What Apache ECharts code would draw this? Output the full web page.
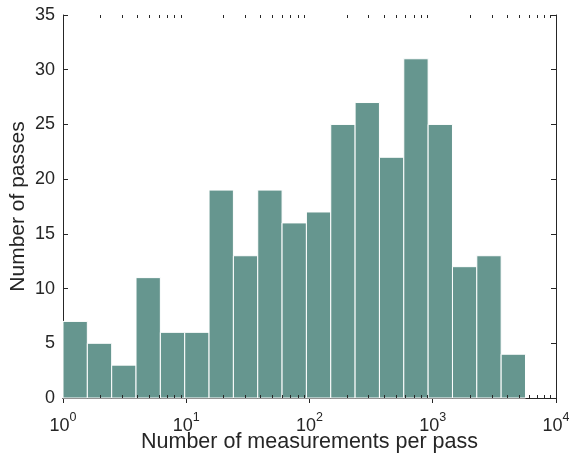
<!DOCTYPE html>
<html>
<head>
<meta charset="utf-8">
<script src="https://cdn.jsdelivr.net/npm/echarts@6/dist/echarts.min.js"></script>
<style>
  html, body { margin: 0; padding: 0; background: #fff; }
  #chart { width: 569px; height: 457px; }
</style>
</head>
<body>
<div id="chart"></div>
<script>
// Histogram of measurements per pass, log-spaced bins
const counts = [7, 5, 3, 11, 6, 6, 19, 13, 19, 16, 17, 25, 27, 22, 31, 25, 12, 13, 4];
const binStartExp = 0;        // log10 of first bin edge
const binWidthExp = 0.1975;   // bin width in decades
const yTicks = [0, 5, 10, 15, 20, 25, 30, 35];
const xTitle = 'Number of measurements per pass';
const yTitle = 'Number of passes';

const FONT = '"Liberation Sans", Arial, Helvetica, sans-serif';
const INK = '#262626';
const BAR = '#66968f';

const bins = counts.map((c, i) => [
  Math.pow(10, binStartExp + i * binWidthExp),
  Math.pow(10, binStartExp + (i + 1) * binWidthExp),
  c
]);

// minor tick values 2..9 in each decade
const minorTicks = [];
for (let e = 0; e < 4; e++) {
  for (let m = 2; m <= 9; m++) minorTicks.push([m * Math.pow(10, e)]);
}

const chart = echarts.init(document.getElementById('chart'), null, { renderer: 'canvas' });

const axisLine = { show: true, lineStyle: { color: INK, width: 1 } };
const yMax = yTicks[yTicks.length - 1];

chart.setOption({
  animation: false,
  backgroundColor: '#fff',
  grid: { left: 63, right: 13, top: 15, bottom: 59, containLabel: false, outerBoundsMode: 'none' },
  xAxis: [
    {
      type: 'log', logBase: 10, min: 1, max: 10000,
      position: 'bottom',
      axisLine: axisLine,
      axisTick: { show: true, inside: true, length: 5, lineStyle: { color: INK } },
      splitLine: { show: false },
      axisLabel: {
        margin: 13,
        formatter: v => '{b|10}{s|' + Math.round(Math.log10(v)) + '}',
        rich: {
          b: { fontFamily: FONT, fontSize: 18, color: INK, verticalAlign: 'bottom', lineHeight: 24 },
          s: { fontFamily: FONT, fontSize: 12.5, color: INK, verticalAlign: 'top', padding: [0, 0, 10, 0], lineHeight: 24 }
        }
      },
      name: xTitle, nameLocation: 'middle', nameGap: 33, nameMoveOverlap: false,
      nameTextStyle: { fontFamily: FONT, fontSize: 21.5, color: INK }
    },
    {
      type: 'log', logBase: 10, min: 1, max: 10000,
      position: 'top',
      axisLine: axisLine,
      axisTick: { show: true, inside: true, length: 5, lineStyle: { color: INK } },
      axisLabel: { show: false },
      splitLine: { show: false }
    }
  ],
  yAxis: [
    {
      type: 'value', min: 0, max: yMax, interval: 5,
      position: 'left',
      axisLine: axisLine,
      axisTick: { show: true, inside: true, length: 5, lineStyle: { color: INK } },
      splitLine: { show: false },
      axisLabel: { margin: 8, fontFamily: FONT, fontSize: 18, color: INK },
      name: yTitle, nameLocation: 'middle', nameGap: 34, nameMoveOverlap: false,
      nameTextStyle: { fontFamily: FONT, fontSize: 21, color: INK }
    },
    {
      type: 'value', min: 0, max: yMax, interval: 5,
      position: 'right',
      axisLine: axisLine,
      axisTick: { show: true, inside: true, length: 5, lineStyle: { color: INK } },
      axisLabel: { show: false },
      splitLine: { show: false }
    }
  ],
  series: [
    {
      type: 'custom',
      xAxisIndex: 0, yAxisIndex: 0,
      data: bins,
      renderItem: (params, api) => {
        const p0 = api.coord([api.value(0), 0]);
        const p1 = api.coord([api.value(1), api.value(2)]);
        return {
          type: 'rect',
          shape: { x: p0[0], y: p1[1], width: p1[0] - p0[0], height: p0[1] - p1[1] },
          style: { fill: BAR, stroke: '#ffffff', lineWidth: 1 }
        };
      },
      z: 1
    },
    {
      // minor log ticks on bottom and top edges
      type: 'custom',
      xAxisIndex: 0, yAxisIndex: 0,
      data: minorTicks,
      silent: true,
      renderItem: (params, api) => {
        const b = api.coord([api.value(0), 0]);
        const t = api.coord([api.value(0), yMax]);
        const x = Math.round(b[0]) + 0.5;
        return {
          type: 'group',
          children: [
            { type: 'line', shape: { x1: x, y1: b[1], x2: x, y2: b[1] - 3 }, style: { stroke: INK, lineWidth: 1 } },
            { type: 'line', shape: { x1: x, y1: t[1], x2: x, y2: t[1] + 3 }, style: { stroke: INK, lineWidth: 1 } }
          ]
        };
      },
      z: 3
    }
  ]
});
</script>
</body>
</html>
